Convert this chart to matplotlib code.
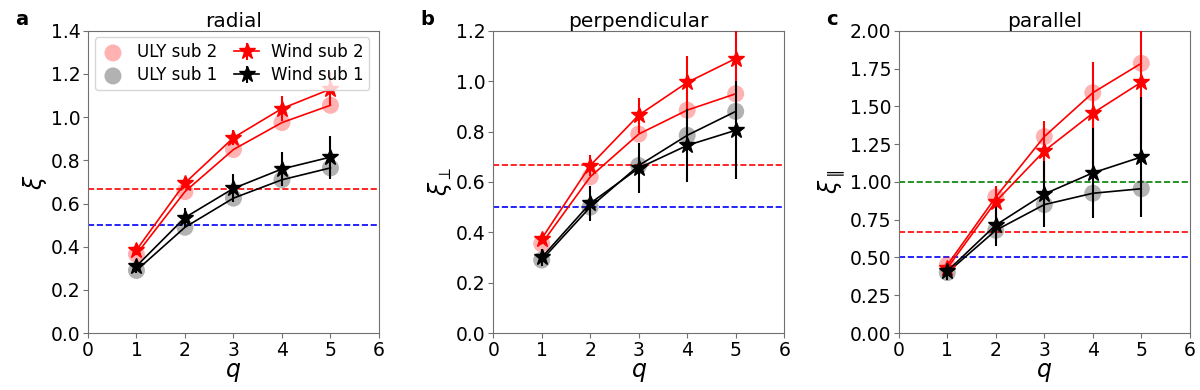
import numpy as np
import matplotlib
matplotlib.use("Agg")
import matplotlib.pyplot as plt

q = [1, 2, 3, 4, 5]

# ── panel a: radial ─────────────────────────────────────────
rad_uly2 = [0.365, 0.655, 0.85, 0.975, 1.055]
rad_uly1 = [0.29, 0.49, 0.625, 0.71, 0.765]
rad_wind2 = [0.385, 0.695, 0.905, 1.04, 1.13]
rad_wind2_err = [0.02, 0.025, 0.035, 0.06, 0.08]
rad_wind1 = [0.31, 0.535, 0.67, 0.76, 0.815]
rad_wind1_err = [0.03, 0.045, 0.065, 0.08, 0.10]

# ── panel b: perpendicular ──────────────────────────────────
perp_uly2 = [0.355, 0.62, 0.79, 0.885, 0.95]
perp_uly1 = [0.29, 0.50, 0.665, 0.785, 0.88]
perp_wind2 = [0.375, 0.665, 0.865, 0.995, 1.09]
perp_wind2_err = [0.02, 0.04, 0.07, 0.105, 0.13]
perp_wind1 = [0.30, 0.515, 0.655, 0.745, 0.805]
perp_wind1_err = [0.035, 0.07, 0.10, 0.145, 0.195]

# ── panel c: parallel ───────────────────────────────────────
par_uly2 = [0.45, 0.90, 1.30, 1.59, 1.785]
par_uly1 = [0.40, 0.68, 0.85, 0.925, 0.955]
par_wind2 = [0.43, 0.87, 1.205, 1.455, 1.66]
par_wind2_err = [0.03, 0.10, 0.20, 0.34, 0.40]
par_wind1 = [0.41, 0.715, 0.92, 1.06, 1.165]
par_wind1_err = [0.06, 0.14, 0.22, 0.30, 0.40]

panels = [
    ("a", "radial", r"$\xi$", (0, 1.4), np.arange(0, 1.41, 0.2), "%.1f",
     rad_uly2, rad_uly1, rad_wind2, rad_wind2_err, rad_wind1, rad_wind1_err, [2/3, 0.5]),
    ("b", "perpendicular", r"$\xi_\perp$", (0, 1.2), np.arange(0, 1.21, 0.2), "%.1f",
     perp_uly2, perp_uly1, perp_wind2, perp_wind2_err, perp_wind1, perp_wind1_err, [2/3, 0.5]),
    ("c", "parallel", r"$\xi_\parallel$", (0, 2.0), np.arange(0, 2.01, 0.25), "%.2f",
     par_uly2, par_uly1, par_wind2, par_wind2_err, par_wind1, par_wind1_err, [1.0, 2/3, 0.5]),
]
hline_colors = {1.0: "green", 2/3: "red", 0.5: "blue"}

fig = plt.figure(figsize=(12, 3.9), dpi=100)
lefts = [0.0733, 0.411, 0.749]
spine_c = "#707070"

for left, (lab, title, ylab, ylim, yticks, fmt, u2, u1, w2, w2e, w1, w1e, hl) in zip(lefts, panels):
    ax = fig.add_axes([left, 0.146, 0.2425, 0.775])
    ax.scatter(q, u2, s=150, color="red", alpha=0.3, edgecolors="none", label="ULY sub 2", zorder=2)
    ax.scatter(q, u1, s=150, color="black", alpha=0.3, edgecolors="none", label="ULY sub 1", zorder=2)
    ax.plot(q, u2, color="red", lw=1.2, zorder=3)
    ax.plot(q, u1, color="black", lw=1.2, zorder=3)
    ax.errorbar(q, w2, yerr=w2e, color="red", marker="*", markersize=12, lw=1.2,
                elinewidth=1.5, label="Wind sub 2", zorder=4)
    ax.errorbar(q, w1, yerr=w1e, color="black", marker="*", markersize=12, lw=1.2,
                elinewidth=1.5, label="Wind sub 1", zorder=4)
    for h in hl:
        ax.axhline(h, color=hline_colors[h], ls="--", lw=1.2, zorder=1)

    ax.set_xlim(0, 6)
    ax.set_ylim(*ylim)
    ax.set_xticks(range(0, 7))
    ax.set_yticks(yticks)
    ax.yaxis.set_major_formatter(matplotlib.ticker.FormatStrFormatter(fmt))
    ax.tick_params(labelsize=13.5, color=spine_c, pad=2)
    for s in ax.spines.values():
        s.set_color(spine_c)
    ax.set_xlabel(r"$q$", fontsize=17, labelpad=0)
    ax.set_ylabel(ylab, fontsize=17, labelpad=1)
    ax.set_title(title, fontsize=14.5, pad=2)
    ax.text(-0.25, 1.07, lab, transform=ax.transAxes, fontsize=14, fontweight="bold",
            va="top", ha="left")

    if lab == "a":
        ax.legend(ncol=2, loc="upper left", fontsize=12, handletextpad=0.7,
                  columnspacing=1.0, borderaxespad=0.4, handlelength=1.5,
                  labelspacing=0.3, borderpad=0.35)

plt.savefig("out.png", dpi=100)
